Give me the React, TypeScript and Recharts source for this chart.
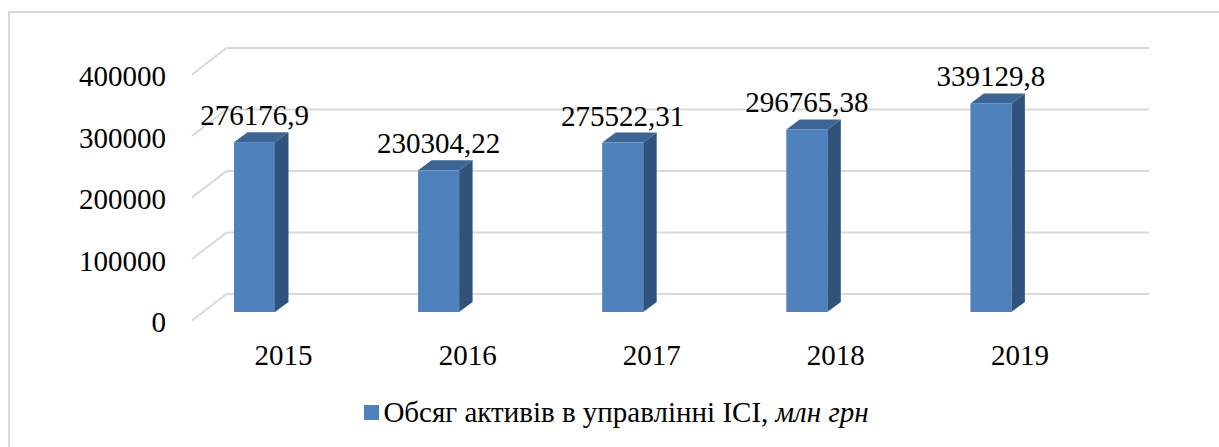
import React from "react";
import { BarChart, Bar, XAxis, YAxis, CartesianGrid, LabelList } from "recharts";

const categories = ["2015", "2016", "2017", "2018", "2019"];
const values = [276176.9, 230304.22, 275522.31, 296765.38, 339129.8];
const valueLabels = ["276176,9", "230304,22", "275522,31", "296765,38", "339129,8"];
const yTicks = [0, 100000, 200000, 300000, 400000];
const seriesName = "Обсяг активів в управлінні ICI, ";
const seriesUnit = "млн грн";

const data = categories.map((c, i) => ({ year: c, value: values[i], label: valueLabels[i] }));

const FONT = "'Liberation Serif', 'Times New Roman', serif";
const FRONT = "#4f81bd";
const TOP = "#3c6494";
const SIDE = "#31527b";
const GRID = "#d9d9d9";
const DX = 13.5;
const DY = -10;
const textStyle = { fontFamily: FONT, fontSize: 29, fill: "#000" };

const Bar3D = (props: any) => {
  const { x, y, width, height } = props;
  if (height == null || height <= 0) return null;
  const top = `${x},${y} ${x + DX},${y + DY} ${x + width + DX},${y + DY} ${x + width},${y}`;
  const side = `${x + width},${y} ${x + width + DX},${y + DY} ${x + width + DX},${y + height + DY} ${x + width},${y + height}`;
  return (
    <g>
      <polygon points={side} fill={SIDE} />
      <polygon points={top} fill={TOP} />
      <rect x={x} y={y} width={width} height={height} fill={FRONT} />
    </g>
  );
};

const GridLine = (props: any) => {
  const { x1, x2, y1 } = props;
  return (
    <g key={`g-${y1}`}>
      <line x1={x1 + 64.5} y1={y1 - 18} x2={x2 + 66.5} y2={y1 - 18} stroke={GRID} strokeWidth={2} />
      <line x1={x1 + 30} y1={y1 + 8.5} x2={x1 + 64.5} y2={y1 - 18} stroke={GRID} strokeWidth={2} />
    </g>
  );
};

const YTick = (props: any) => {
  const { x, y, payload } = props;
  return (
    <text x={x + 4} y={y + 10} textAnchor="end" dominantBaseline="central" style={textStyle}>
      {payload.value}
    </text>
  );
};

const XTick = (props: any) => {
  const { x, y, payload } = props;
  return (
    <text x={x + 29.5} y={y + 43} textAnchor="middle" dominantBaseline="central" style={textStyle}>
      {payload.value}
    </text>
  );
};

const ValueLabel = (props: any) => {
  const { x, y, width, value } = props;
  return (
    <text x={x + width / 2} y={y - 27} textAnchor="middle" dominantBaseline="central" style={textStyle}>
      {value}
    </text>
  );
};

export default function App() {
  return (
    <div style={{ position: "fixed", left: 0, top: 0, width: 1219, height: 447, background: "#fff", overflow: "hidden" }}>
      <div
        style={{
          position: "absolute",
          left: 8,
          top: 11,
          width: 1219,
          height: 447,
          borderLeft: `2px solid ${GRID}`,
          borderTop: `2px solid ${GRID}`,
        }}
      />
      <div style={{ position: "absolute", left: 0, top: 0 }}>
        <BarChart width={1219} height={447} data={data} margin={{ top: 66, bottom: 125, left: 152, right: 136.5 }}>
          <CartesianGrid vertical={false} horizontal={GridLine as any} />
          <YAxis
            domain={[0, 400000]}
            ticks={yTicks}
            width={10}
            tickSize={0}
            tickMargin={0}
            axisLine={false}
            tickLine={false}
            tick={YTick}
            interval={0}
          />
          <XAxis dataKey="year" height={10} tickSize={0} tickMargin={0} axisLine={false} tickLine={false} tick={XTick} interval={0} />
          <Bar dataKey="value" barSize={41} shape={Bar3D} isAnimationActive={false}>
            <LabelList dataKey="label" content={ValueLabel} />
          </Bar>
        </BarChart>
      </div>
      <div
        style={{
          position: "absolute",
          left: 0,
          top: 396,
          width: 1219,
          display: "flex",
          alignItems: "center",
          justifyContent: "center",
          fontFamily: FONT,
          fontSize: 29,
          color: "#000",
          paddingLeft: 14,
          boxSizing: "border-box",
        }}
      >
        <span style={{ display: "inline-block", width: 15, height: 15, background: FRONT, marginRight: 4 }} />
        <span>
          {seriesName}
          <i>{seriesUnit}</i>
        </span>
      </div>
    </div>
  );
}
